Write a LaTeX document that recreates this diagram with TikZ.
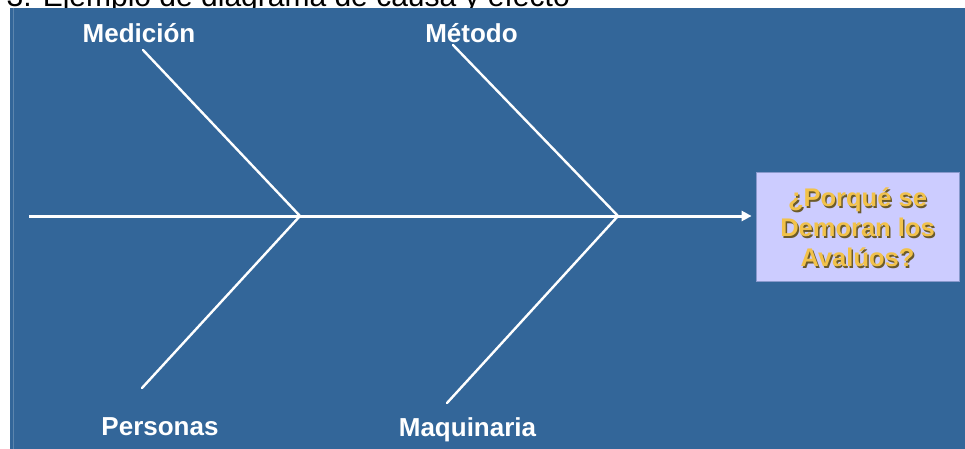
\documentclass[tikz,border=0pt]{standalone}
\usepackage{fontspec}
\setmainfont{Liberation Sans}
\usetikzlibrary{arrows.meta}
\definecolor{panel}{HTML}{336699}
\definecolor{boxfill}{HTML}{CCCCFF}
\definecolor{boxline}{HTML}{8899CC}
\definecolor{gold}{HTML}{F2C24A}
\definecolor{goldshadow}{HTML}{6B5A2A}
\tikzset{
  bone/.style={draw=white, line width=2.4pt, line cap=round},
  spine/.style={draw=white, line width=3pt, -{Triangle[length=10pt,width=10pt]}},
  cause/.style={text=white, font=\fontsize{26}{26}\bfseries\selectfont, inner sep=0pt, anchor=base},
  effecttext/.style={font=\fontsize{25.5}{30}\bfseries\selectfont, align=center, inner sep=0pt},
}
\begin{document}
\begin{tikzpicture}[x=1pt,y=-1pt]
\useasboundingbox (0,0) rectangle (965,449);
\clip (0,0) rectangle (965,449);
% partially hidden title
\node[anchor=base east, font=\fontsize{30}{30}\selectfont, inner sep=0pt] (title) at (570,6.5) {Figura 3. Ejemplo de diagrama de causa y efecto};
% panel
\fill[panel] (10,8) rectangle (965,449);
\draw[panel!80!white, line width=0.8pt] (13.5,8) -- (13.5,449);
% effect box
\node[draw=boxline, line width=0.8pt, fill=boxfill, minimum width=203pt, minimum height=109pt, inner sep=0pt] (effect) at (857.5,226.5) {};
\node[effecttext, text=goldshadow] (effectshadow) at (859,229) {¿Porqué se\\Demoran los\\Avalúos?};
\node[effecttext, text=gold] (effectlabel) at (857.5,227.5) {¿Porqué se\\Demoran los\\Avalúos?};
% joints and ends
\coordinate (tail) at (29,216);
\coordinate (j1) at (300,216);
\coordinate (j2) at (618,216);
\coordinate (e1) at (143,50);
\coordinate (e2) at (142,388);
\coordinate (e3) at (453,45);
\coordinate (e4) at (447,403);
% spine
\draw[spine, shorten >=4pt] (tail) -- (tail -| effect.west);
% bones
\draw[bone] (e1) -- (j1);
\draw[bone] (j1) -- (e2);
\draw[bone] (e3) -- (j2);
\draw[bone] (j2) -- (e4);
% labels
\node[cause] (medicion) at (139,43) {Medición};
\node[cause] (metodo) at (471.5,42.7) {Método};
\node[cause] (personas) at (160,435) {Personas};
\node[cause] (maquinaria) at (467.5,436.7) {Maquinaria};
\end{tikzpicture}
\end{document}
